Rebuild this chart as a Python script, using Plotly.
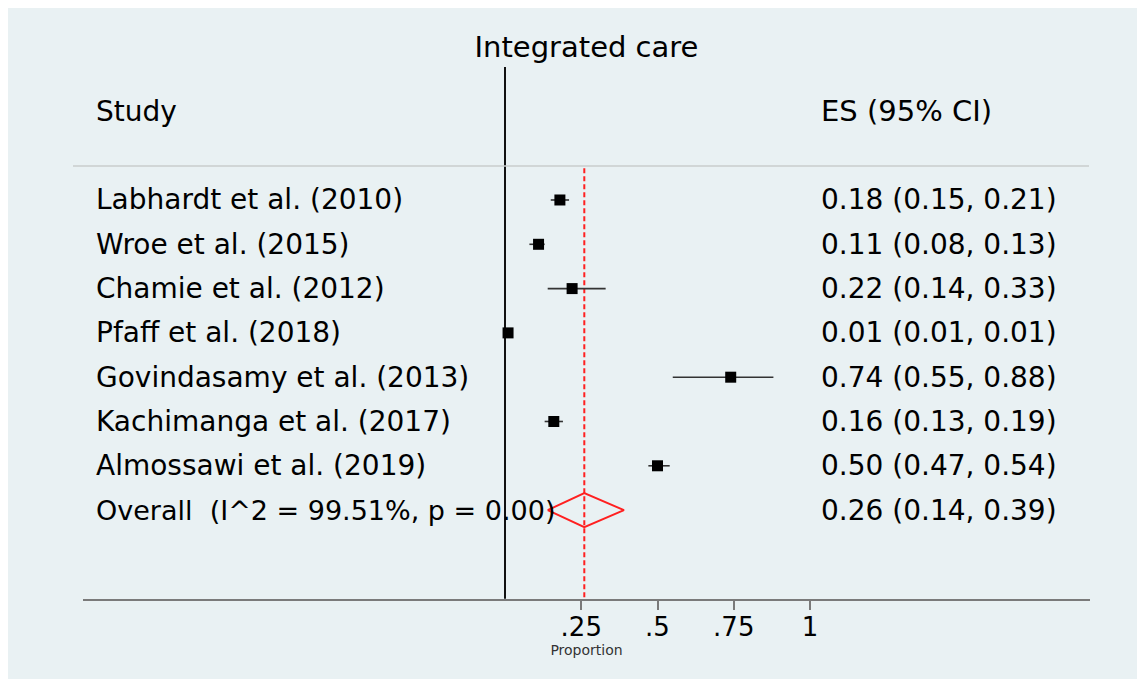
import plotly.graph_objects as go

# ---- data ----
studies = [
    "Labhardt et al. (2010)",
    "Wroe et al. (2015)",
    "Chamie et al. (2012)",
    "Pfaff et al. (2018)",
    "Govindasamy et al. (2013)",
    "Kachimanga et al. (2017)",
    "Almossawi et al. (2019)",
]
es = [0.18, 0.11, 0.22, 0.01, 0.74, 0.16, 0.50]
ci_lo = [0.15, 0.08, 0.14, 0.01, 0.55, 0.13, 0.47]
ci_hi = [0.21, 0.13, 0.33, 0.01, 0.88, 0.19, 0.54]

overall_label = "Overall  (I^2 = 99.51%, p = 0.00)"
overall_es = 0.26
overall_lo = 0.14
overall_hi = 0.39

tick_vals = [0.25, 0.5, 0.75, 1]
tick_text = [".25", ".5", ".75", "1"]

title_text = "Integrated care"
col_left = "Study"
col_right = "ES (95% CI)"
x_title = "Proportion"

# ---- layout constants (figure sits inside the page's 8px body margin) ----
W, H = 1137, 671
ML, MR, MT, MB = 75, 55, 0, 80
BG = "#e9f1f3"
FONT = "DejaVu Sans"
X_RANGE = [-1.3836, 1.918]
Y_RANGE = [10.007, -3.334]   # reversed: row 1 at top
LABEL_X = -1.348
ES_X = 1.029
HEADER_ROW = -1.009
SEP_ROW = 0.2325
VLINE_TOP = -2.0
AXIS_ROW = 10.0
DIAMOND_HALF = 0.384

rows = list(range(1, len(studies) + 1))
overall_row = len(studies) + 1

plot_w = W - ML - MR
plot_h = H - MT - MB


def row_to_paper(r):
    return (Y_RANGE[0] - r) / (Y_RANGE[0] - Y_RANGE[1])


def px_to_paper_x(px):
    return (px - ML) / plot_w


fig = go.Figure()

# header separator line
fig.add_shape(type="line", xref="paper", yref="paper",
              x0=px_to_paper_x(65), x1=px_to_paper_x(1081),
              y0=row_to_paper(SEP_ROW), y1=row_to_paper(SEP_ROW),
              line=dict(color="#c9cccd", width=1.5))

# null line at 0
fig.add_trace(go.Scatter(x=[0, 0], y=[VLINE_TOP, AXIS_ROW], mode="lines",
                         line=dict(color="#111111", width=2),
                         hoverinfo="skip", showlegend=False))

# overall dashed line
fig.add_trace(go.Scatter(x=[overall_es, overall_es], y=[SEP_ROW + 0.05, AXIS_ROW],
                         mode="lines",
                         line=dict(color="#ff2020", width=2, dash="5px,3px"),
                         hoverinfo="skip", showlegend=False))

# study estimates with CIs
fig.add_trace(go.Scatter(
    x=es, y=rows, mode="markers",
    marker=dict(symbol="square", size=11, color="#000000"),
    error_x=dict(type="data", symmetric=False,
                 array=[h - e for e, h in zip(es, ci_hi)],
                 arrayminus=[e - l for e, l in zip(es, ci_lo)],
                 color="#333333", thickness=1.6, width=0),
    showlegend=False))

# overall diamond
fig.add_trace(go.Scatter(
    x=[overall_lo, overall_es, overall_hi, overall_es, overall_lo],
    y=[overall_row, overall_row - DIAMOND_HALF, overall_row,
       overall_row + DIAMOND_HALF, overall_row],
    mode="lines", line=dict(color="#ff2020", width=2),
    showlegend=False))


def txt(x, y, s, size):
    return dict(x=x, y=y, xref="x", yref="y", text=s, showarrow=False,
                xanchor="left", yanchor="middle",
                font=dict(family=FONT, size=size, color="#000000"))


annotations = []
for lab, r in zip(studies, rows):
    annotations.append(txt(LABEL_X, r, lab, 28))
annotations.append(txt(LABEL_X, overall_row, overall_label, 27))
for e, l, h, r in zip(es + [overall_es], ci_lo + [overall_lo],
                      ci_hi + [overall_hi], rows + [overall_row]):
    annotations.append(txt(ES_X, r, f"{e:.2f} ({l:.2f}, {h:.2f})", 28))
annotations.append(txt(LABEL_X, HEADER_ROW, col_left, 28))
annotations.append(txt(ES_X, HEADER_ROW, col_right, 29))

fig.update_layout(
    width=W, height=H,
    margin=dict(l=ML, r=MR, t=MT, b=MB),
    paper_bgcolor=BG,
    plot_bgcolor=BG,
    title=dict(text=title_text, x=0.5, xref="paper", y=1 - 39 / H,
               yref="container", xanchor="center", yanchor="middle",
               font=dict(family=FONT, size=29, color="#000000")),
    annotations=annotations,
    xaxis=dict(range=X_RANGE, showgrid=False, zeroline=False,
               showline=True, linecolor="#7a7a7a", linewidth=2,
               ticks="outside", ticklen=9, tickwidth=2, tickcolor="#7a7a7a",
               tickvals=tick_vals, ticktext=tick_text, ticklabelstandoff=-5,
               tickfont=dict(family=FONT, size=26, color="#000000"),
               title=dict(text=x_title, standoff=0,
                          font=dict(family=FONT, size=14, color="#333333"))),
    yaxis=dict(range=Y_RANGE, showgrid=False, zeroline=False,
               showticklabels=False, showline=False, ticks=""),
    showlegend=False,
)

fig.write_html("out.html")
